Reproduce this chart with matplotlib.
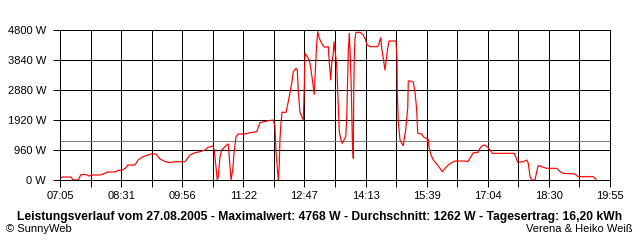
import matplotlib
matplotlib.use("Agg")
import matplotlib.pyplot as plt
import numpy as np

# time in minutes since midnight, power in W
t_min = [425, 427.8, 440.4, 443.2, 450.2, 454.4, 461.4, 465.6, 471.2, 481, 485.2, 492.2, 502, 506.2,
         511.8, 516, 520.2, 530, 534.2, 541.2, 548.2, 552.4, 559.4, 565, 572, 579, 586, 600, 607,
         614, 621, 628, 632.2, 639.2, 641, 643.4, 645.2, 646.6, 649, 651.4, 658.4, 660.6, 663,
         664.4, 666.8, 668.6, 671.4, 674.6, 684, 691, 700.4, 705, 714.4, 723.6, 726, 727.4, 729.2,
         730.6, 732, 733, 734.4, 735.8, 741.4, 744.6, 749.4, 751.6, 755.4, 757.2, 758.6, 761,
         763.4, 765.6, 767, 768, 772.6, 775, 777.4, 779.6, 781, 783, 784.4, 785.8, 788, 791.4,
         793.6, 796, 800.6, 802, 804, 805.4, 807.6, 808.6, 810, 812.4, 814.6, 816, 818.4, 820.2,
         822.6, 825, 826.4, 827.8, 828.6, 830, 831, 832.4, 833.4, 834.2, 835.6, 836.2, 837, 838,
         839.4, 845, 849.6, 853, 854.4, 859, 869.8, 871.6, 874, 875.4, 877.6, 880, 881.4, 883.8,
         885.6, 895.4, 896.8, 897.2, 898.6, 901, 903.4, 905.6, 907, 909, 910.4, 911.8, 912.6, 916,
         919.6, 922, 924.4, 925.8, 931.4, 933.6, 937, 940.6, 941.6, 944.4, 947.6, 952.4, 957,
         960.2, 964, 968.6, 973.4, 978, 992, 995.8, 999, 1003.6, 1009.8, 1013, 1016.2, 1020,
         1023.8, 1027, 1030.2, 1048, 1061, 1063, 1065.8, 1073.6, 1078.4, 1080.6, 1083, 1085.4,
         1090, 1092.4, 1094.6, 1097, 1101.6, 1106.4, 1120.4, 1125, 1129.6, 1146, 1150.6, 1171.6,
         1175, 1175.4]
power_w = [64, 96, 96, 0, 0, 176, 176, 128, 160, 160, 192, 256, 256, 304,
           320, 368, 480, 480, 640, 746, 800, 832, 832, 672, 592, 554, 586, 586, 800,
           874, 906, 960, 1046, 1088, 960, 426, 0, 106, 746, 960, 1120, 1152, 426,
           0, 320, 854, 1386, 1472, 1472, 1514, 1546, 1834, 1888, 1920, 1706, 906, 374,
           0, 480, 1334, 1814, 2166, 2166, 2506, 3094, 3466, 3574, 3520, 2826, 2166,
           2026, 1920, 2986, 4054, 3894, 3734, 3360, 2986, 2742, 3754, 4374, 4746, 4534, 4374,
           4288, 4246, 4266, 3754, 3200, 3734, 4054, 4426, 4160, 3680, 2400, 1546, 1280, 1174,
           1280, 1386, 1974, 3254, 4106, 4694, 4160, 3254, 2294, 1334, 694, 2826, 3894, 4534,
           4726, 4726, 4640, 4480, 4342, 4266, 4266, 4374, 4554, 4214, 3894, 3520, 3786, 4214,
           4448, 4448, 3894, 2826, 1866, 1280, 1174, 1098, 1334, 1600, 1974, 2294, 3168, 3168,
           3126, 2826, 2240, 1494, 1472, 1386, 1334, 1302, 1066, 800, 640, 512, 374,
           266, 374, 480, 554, 608, 608, 586, 694, 874, 874, 1014, 1098, 1120,
           1046, 960, 854, 854, 854, 746, 566, 586, 640, 534, 106, 0,
           0, 266, 458, 448, 406, 374, 374, 266, 214, 192, 106, 106,
           32, 0]

avg_w = 1262
y_ticks = [0, 960, 1920, 2880, 3840, 4800]
x_labels = ["07:05", "08:31", "09:56", "11:22", "12:47", "14:13", "15:39", "17:04", "18:30", "19:55"]
t_start, t_end = 425, 1195

title = ("Leistungsverlauf vom 27.08.2005 - Maximalwert: 4768 W - Durchschnitt: 1262 W"
         " - Tagesertrag: 16,20 kWh")

plt.rcParams['font.family'] = ['Liberation Sans', 'DejaVu Sans']

fig = plt.figure(figsize=(6.4, 2.4), dpi=100)
ax = fig.add_axes([60 / 640, 60 / 240, 550 / 640, 150 / 240])
ax.set_xlim(t_start, t_end)
ax.set_ylim(0, 4800)

lw = 0.72
grid_x = np.linspace(t_start, t_end, 19)
for gx in grid_x[1:-1]:
    ax.axvline(gx, color='black', lw=lw, zorder=1)
for gy in y_ticks[1:-1]:
    ax.axhline(gy, color='black', lw=lw, zorder=1)
ax.axhline(avg_w, color='#808080', lw=lw, zorder=1)

ax.plot(t_min, power_w, color='#ff0000', lw=0.85, zorder=2)

for s in ax.spines.values():
    s.set_linewidth(lw)
    s.set_color('black')
    s.set_zorder(3)

ax.set_xticks(grid_x)
ax.set_xticklabels([x_labels[i // 2] if i % 2 == 0 else "" for i in range(19)])
ax.set_yticks(y_ticks)
ax.set_yticklabels([f"{v} W" for v in y_ticks])
ax.tick_params(axis='x', length=5, width=lw, color='black', labelsize=8, pad=3)
ax.tick_params(axis='y', length=5, width=lw, color='black', labelsize=8, pad=5)

fig.text(0.5, 1 - 217 / 240, title, ha='center', va='center', fontsize=8.7, fontweight='bold')
fig.text(6 / 640, 1 - 228.5 / 240, "© SunnyWeb", ha='left', va='center', fontsize=8)
fig.text(633 / 640, 1 - 228.5 / 240, "Verena & Heiko Weiß", ha='right', va='center', fontsize=8)

fig.savefig("out.png", dpi=100)
